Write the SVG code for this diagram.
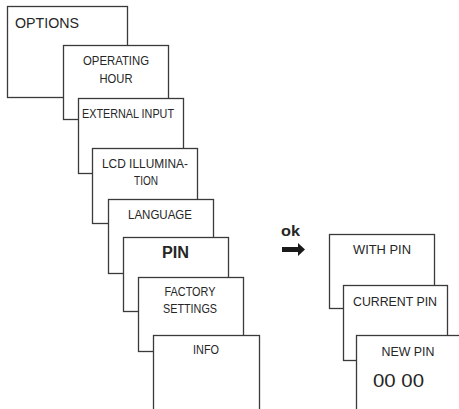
<svg xmlns="http://www.w3.org/2000/svg" width="459" height="409" viewBox="0 0 459 409">
<style>
.b{fill:#fff;stroke:#3a3a3a;stroke-width:1.3}
.t{font-family:"Liberation Sans",Arial,sans-serif;font-size:13.5px;fill:#262626;text-anchor:middle}
.bd{font-weight:bold}
</style>
<rect width="459" height="409" fill="#fff"/>
<g id="options"><rect class="b" x="7.5" y="6.5" width="120" height="91"/><text class="t" x="47" y="28" style="font-size:15px" textLength="64" lengthAdjust="spacingAndGlyphs">OPTIONS</text></g>
<g id="operating-hour"><rect class="b" x="63.5" y="45.5" width="105" height="74"/><text class="t" x="116" y="65" textLength="66" lengthAdjust="spacingAndGlyphs">OPERATING</text><text class="t" x="116" y="83" textLength="33" lengthAdjust="spacingAndGlyphs">HOUR</text></g>
<g id="external-input"><rect class="b" x="78.5" y="98.5" width="105" height="75"/><text class="t" x="128" y="118" textLength="92" lengthAdjust="spacingAndGlyphs">EXTERNAL INPUT</text></g>
<g id="lcd"><rect class="b" x="92.5" y="148.5" width="105" height="75"/><text class="t" x="145" y="168" textLength="86" lengthAdjust="spacingAndGlyphs">LCD ILLUMINA-</text><text class="t" x="146" y="185" textLength="24" lengthAdjust="spacingAndGlyphs">TION</text></g>
<g id="language"><rect class="b" x="108.5" y="199.5" width="105" height="74"/><text class="t" x="160" y="219" textLength="64" lengthAdjust="spacingAndGlyphs">LANGUAGE</text></g>
<g id="pin"><rect class="b" x="123.5" y="237.5" width="105" height="74"/><text class="t bd" x="175.5" y="258" style="font-size:16px" textLength="27" lengthAdjust="spacingAndGlyphs">PIN</text></g>
<g id="factory"><rect class="b" x="138.5" y="277.5" width="105" height="74"/><text class="t" x="190" y="296" textLength="51" lengthAdjust="spacingAndGlyphs">FACTORY</text><text class="t" x="190" y="313" textLength="54" lengthAdjust="spacingAndGlyphs">SETTINGS</text></g>
<g id="info"><rect class="b" x="153.5" y="335.5" width="106" height="85"/><text class="t" x="206" y="354" textLength="26" lengthAdjust="spacingAndGlyphs">INFO</text></g>
<g id="with-pin"><rect class="b" x="329.5" y="234.5" width="105" height="74"/><text class="t" x="382" y="254" textLength="58" lengthAdjust="spacingAndGlyphs">WITH PIN</text></g>
<g id="current-pin"><rect class="b" x="343.5" y="285.5" width="104" height="75"/><text class="t" x="395" y="306" textLength="84" lengthAdjust="spacingAndGlyphs">CURRENT PIN</text></g>
<g id="new-pin"><rect class="b" x="356.5" y="335.5" width="110" height="85"/><text class="t" x="408" y="356" textLength="53" lengthAdjust="spacingAndGlyphs">NEW PIN</text><text class="t" x="398.5" y="387" style="font-size:18px" textLength="51" lengthAdjust="spacingAndGlyphs">00 00</text></g>
<g id="connectors">
<text class="t bd" x="290.5" y="236" style="font-size:15px" textLength="19" lengthAdjust="spacingAndGlyphs">ok</text>
<path d="M282 247H298V243L305 249.5L298 256V252H282Z" fill="#1a1a1a"/>
</g>
</svg>
